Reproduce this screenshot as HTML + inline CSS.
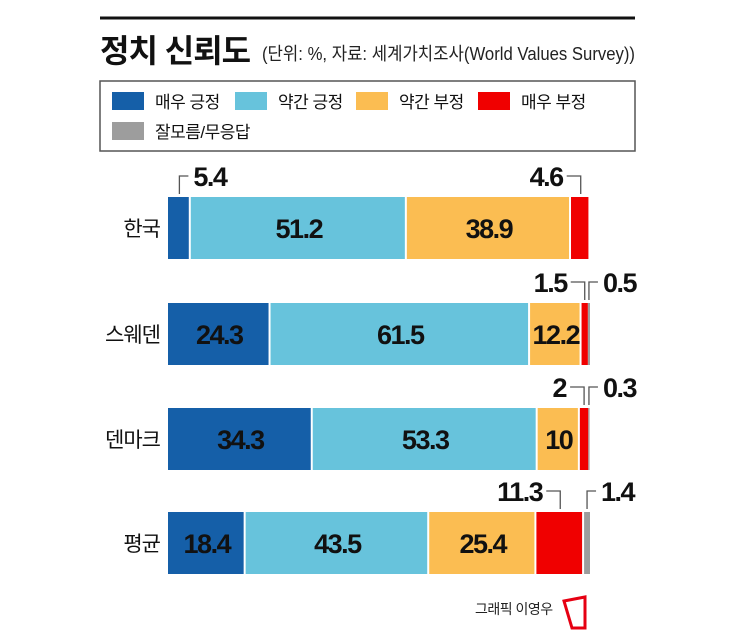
<!DOCTYPE html>
<html><head><meta charset="utf-8">
<style>
body{margin:0;background:#fff;}
svg text{font-family:"Liberation Sans","Noto Sans CJK KR",sans-serif;}
.v{font-family:"Liberation Sans Narrow","Liberation Sans","Noto Sans CJK KR",sans-serif;font-weight:bold;font-size:27px;letter-spacing:-1.5px;fill:#111;}
</style></head>
<body>
<svg id="chart" width="745" height="639" xmlns="http://www.w3.org/2000/svg">
<line x1="100" y1="18" x2="635" y2="18" stroke="#111" stroke-width="3"/>
<text x="100" y="62" font-size="32" font-weight="bold" fill="#111" font-family="'Noto Sans CJK KR',sans-serif" letter-spacing="-1">정치 신뢰도</text>
<text x="262" y="60" font-size="18" fill="#222" textLength="373" lengthAdjust="spacingAndGlyphs">(단위: %, 자료: 세계가치조사(World Values Survey))</text>
<g>
<rect x="100" y="81" width="535" height="70" fill="#fff" stroke="#555" stroke-width="1.5"/>
</g>
<g id="bars"></g>
<g>
<text x="475" y="614" font-size="14" fill="#222" letter-spacing="-0.5">그래픽 이영우</text>
<path d="M564 601 L585 597 L585 628 L572 628 Z" fill="none" stroke="#e60012" stroke-width="3"/>
</g>
</svg>
<script>
const categories=["한국","스웨덴","덴마크","평균"];
const seriesNames=["매우 긍정","약간 긍정","약간 부정","매우 부정","잘모름/무응답"];
const colors=["#155fa8","#67c3dc","#fbbd52","#f00000","#9d9d9d"];
const veryPos=[5.4,24.3,34.3,18.4];
const somePos=[51.2,61.5,53.3,43.5];
const someNeg=[38.9,12.2,10,25.4];
const veryNeg=[4.6,1.5,2,11.3];
const noAns=[0,0.5,0.3,1.4];
const labelsInside=[["","51.2","38.9","",""],["24.3","61.5","12.2","",""],["34.3","53.3","10","",""],["18.4","43.5","25.4","",""]];
const calloutLabels=[["5.4",null,null,"4.6",null],[null,null,null,"1.5","0.5"],[null,null,null,"2","0.3"],[null,null,null,"11.3","1.4"]];
const NS="http://www.w3.org/2000/svg";
const svg=document.getElementById('chart');
const g=document.getElementById('bars');
const X0=168,W=422;
const x=v=>X0+v/100*W;
const rowTop=[197,303,408,512];
const BH=62;
function mk(t,a,p){const e=document.createElementNS(NS,t);for(const k in a)e.setAttribute(k,a[k]);(p||g).appendChild(e);return e;}
const lgX=[112,235,356,478,112],lgY=[92,92,92,92,122];
seriesNames.forEach((n,i)=>{
 const bx=lgX[i];
 const r=mk('rect',{x:bx,y:lgY[i],width:32,height:18,fill:colors[i]},svg);
 
 
 const t=mk('text',{x:bx+43,y:lgY[i]+16,'font-size':17,fill:'#111','letter-spacing':'-0.5'},svg);
 t.textContent=n;
 
 
});
const series=[veryPos,somePos,someNeg,veryNeg,noAns];
categories.forEach((c,i)=>{
 const y=rowTop[i];
 const lab=mk('text',{x:160,y:y+BH/2+8,'font-size':21,'text-anchor':'end',fill:'#111','letter-spacing':'-1'});
 lab.textContent=c;
 
 
 let acc=0;
 const centers=[];
 series.forEach((s,j)=>{
  const v=s[i];const x1=x(acc),x2=x(acc+v);acc+=v;
  centers.push((x1+x2)/2);
  if(v<=0)return;
  const r=mk('rect',{x:x1,y:y,width:Math.max(x2-x1-(j<3?2:(j===3&&v>3?2:0)),1),height:BH,fill:colors[j]});
  
  
  const L=labelsInside[i][j];
  if(L){const t=mk('text',{x:(x1+x2)/2,y:y+BH/2+10,'text-anchor':'middle',class:'v'});t.textContent=L;
   
   }
 });
 const cy=y-21;
 calloutLabels[i].forEach((L,j)=>{
  if(L===null)return;
  const cx=centers[j];
  const right=(i===0)?(j===0):(j===4);
  const d=right?9:-14;
  const p=mk('path',{d:`M${cx} ${y-3} L${cx} ${cy} L${cx+d} ${cy}`,fill:'none',stroke:'#555','stroke-width':1.3});
  
  
  const t=mk('text',{x:cx+d+(right?5:-4),y:cy+10,'text-anchor':right?'start':'end',class:'v'});
  t.textContent=L;
  
  
 });
});
</script>
</body></html>
